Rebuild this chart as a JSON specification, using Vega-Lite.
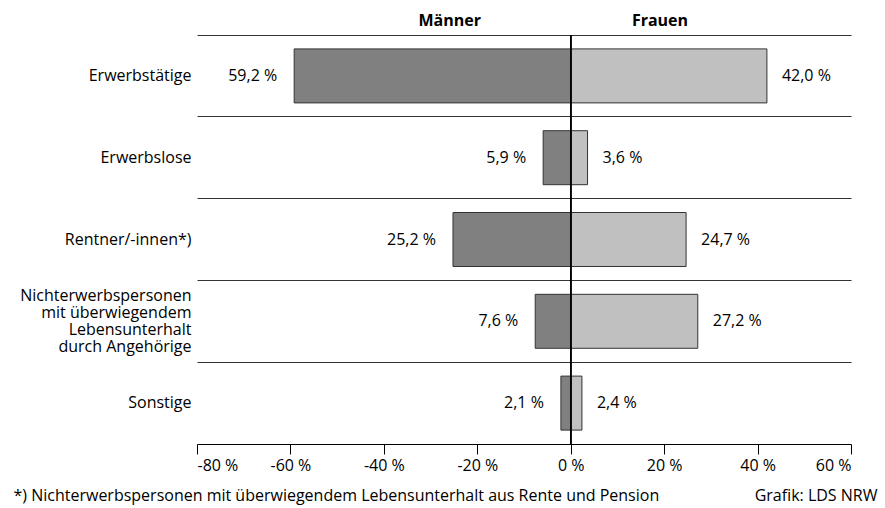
{
  "$schema": "https://vega.github.io/schema/vega-lite/v6.json",
  "width": 654,
  "height": 409,
  "autosize": {"type": "none"},
  "padding": {"left": 197, "top": 35, "right": 34, "bottom": 64},
  "background": "white",
  "config": {
    "font": "Open Sans",
    "view": {"stroke": null},
    "axis": {"labelFont": "Open Sans", "titleFont": "Open Sans", "labelColor": "#000", "titleColor": "#000"}
  },
  "data": {
    "values": [
      {"kategorie": "Erwerbstätige", "geschlecht": "Männer", "anteil": -59.2},
      {"kategorie": "Erwerbstätige", "geschlecht": "Frauen", "anteil": 42.0},
      {"kategorie": "Erwerbslose", "geschlecht": "Männer", "anteil": -5.9},
      {"kategorie": "Erwerbslose", "geschlecht": "Frauen", "anteil": 3.6},
      {"kategorie": "Rentner/-innen*)", "geschlecht": "Männer", "anteil": -25.2},
      {"kategorie": "Rentner/-innen*)", "geschlecht": "Frauen", "anteil": 24.7},
      {"kategorie": "Nichterwerbspersonen|mit überwiegendem|Lebensunterhalt|durch Angehörige", "geschlecht": "Männer", "anteil": -7.6},
      {"kategorie": "Nichterwerbspersonen|mit überwiegendem|Lebensunterhalt|durch Angehörige", "geschlecht": "Frauen", "anteil": 27.2},
      {"kategorie": "Sonstige", "geschlecht": "Männer", "anteil": -2.1},
      {"kategorie": "Sonstige", "geschlecht": "Frauen", "anteil": 2.4}
    ]
  },
  "encoding": {
    "y": {
      "field": "kategorie",
      "type": "nominal",
      "sort": null,
      "scale": {"paddingInner": 0, "paddingOuter": 0},
      "axis": {
        "labelExpr": "split(datum.label, '|')",
        "labelFontSize": 16,
        "labelLineHeight": 17,
        "labelPadding": 6,
        "labelOffset": {"condition": {"test": "indexof(datum.label, '|') >= 0", "value": -25.5}, "value": 0},
        "ticks": false,
        "domain": false,
        "grid": true,
        "bandPosition": 0,
        "gridColor": "#333",
        "gridWidth": 1,
        "gridOpacity": 1,
        "title": "*) Nichterwerbspersonen mit überwiegendem Lebensunterhalt aus Rente und Pension",
        "titleAngle": 0,
        "titleAlign": "left",
        "titleBaseline": "middle",
        "titleFontWeight": "normal",
        "titleFontSize": 16,
        "titleX": -184,
        "titleY": 460
      }
    }
  },
  "layer": [
    {
      "mark": {"type": "bar", "height": {"band": 0.66}, "stroke": "#333", "strokeWidth": 1},
      "encoding": {
        "x": {
          "field": "anteil",
          "type": "quantitative",
          "stack": null,
          "scale": {"domain": [-80, 60], "nice": false},
          "axis": {
            "values": [-80, -60, -40, -20, 0, 20, 40, 60],
            "labelExpr": "datum.value + ' %'",
            "labelFontSize": 16,
            "labelPadding": 3,
            "tickSize": 10,
            "tickColor": "#000",
            "domainColor": "#000",
            "grid": false,
            "title": "Grafik: LDS NRW",
            "titleAnchor": null,
            "titleAlign": "right",
            "titleBaseline": "middle",
            "titleFontWeight": "normal",
            "titleFontSize": 16,
            "titleX": 680,
            "titleY": 51
          }
        },
        "color": {
          "field": "geschlecht",
          "type": "nominal",
          "scale": {"domain": ["Männer", "Frauen"], "range": ["#808080", "#c0c0c0"]},
          "legend": null
        }
      }
    },
    {
      "transform": [{"filter": "datum.anteil < 0"}],
      "mark": {"type": "text", "align": "right", "baseline": "middle", "dx": -17, "fontSize": 16, "color": "#000",
        "text": {"expr": "replace(format(-datum.anteil, '.1f'), '.', ',') + ' %'"}},
      "encoding": {
        "x": {"field": "anteil", "type": "quantitative", "axis": null}
      }
    },
    {
      "transform": [{"filter": "datum.anteil > 0"}],
      "mark": {"type": "text", "align": "left", "baseline": "middle", "dx": 15, "fontSize": 16, "color": "#000",
        "text": {"expr": "replace(format(datum.anteil, '.1f'), '.', ',') + ' %'"}},
      "encoding": {
        "x": {"field": "anteil", "type": "quantitative", "axis": null}
      }
    },
    {
      "mark": {"type": "rule", "color": "#000", "strokeWidth": 1},
      "encoding": {
        "x": {
          "datum": 0,
          "type": "quantitative",
          "axis": {
            "orient": "top",
            "values": [-26, 19],
            "labelExpr": "datum.value < 0 ? 'Männer' : 'Frauen'",
            "labelFontSize": 16,
            "labelFontWeight": "bold",
            "labelPadding": 7,
            "ticks": false,
            "domain": false,
            "grid": false,
            "title": null
          }
        },
        "y": null
      }
    }
  ],
  "resolve": {"axis": {"x": "independent"}}
}
